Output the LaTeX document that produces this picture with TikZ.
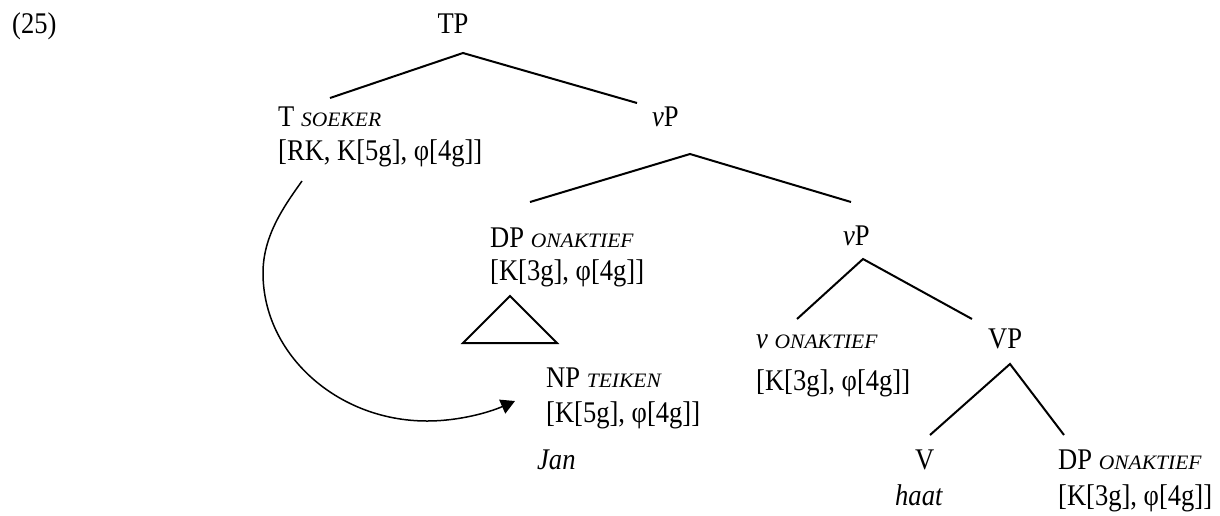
\documentclass[tikz,border=0pt]{standalone}
\usepackage{fontspec}
\setmainfont{Liberation Serif}[FakeStretch=0.885]
\newfontfamily\rolfont{Liberation Serif}[FakeStretch=1.05]
\usetikzlibrary{arrows.meta}
\newcommand\rol[1]{{\rolfont\fontsize{20.5}{20.5}\selectfont\itshape #1}}
\tikzset{lab/.style={anchor=base west,inner sep=0pt,font=\fontsize{30}{34}\selectfont},
  tak/.style={line width=2pt}}
\begin{document}
\begin{tikzpicture}[x=1pt,y=-1pt]
\useasboundingbox (0,0) rectangle (1220,515);
% labels
\node[lab] (nr) at (12,33) {(25)};
\node[lab,anchor=base] (TP) at (453,33) {TP};
\node[lab] (T) at (278,126) {T \rol{SOEKER}};
\node[lab] (Tf) at (278,160) {[RK, K[5g], φ[4g]]};
\node[lab] (vPa) at (652,126) {\textit{v}P};
\node[lab] (DPa) at (490,247) {DP \rol{ONAKTIEF}};
\node[lab] (DPaf) at (490,280) {[K[3g], φ[4g]]};
\node[lab] (NP) at (546,387) {NP \rol{TEIKEN}};
\node[lab] (NPf) at (546,422) {[K[5g], φ[4g]]};
\node[lab] (Jan) at (537,469) {\textit{Jan}};
\node[lab] (vPb) at (843,245) {\textit{v}P};
\node[lab] (v) at (756,348) {\textit{v} \rol{ONAKTIEF}};
\node[lab] (vf) at (756,390) {[K[3g], φ[4g]]};
\node[lab] (VP) at (988,348) {VP};
\node[lab] (V) at (915,469) {V};
\node[lab] (haat) at (895,505) {\textit{haat}};
\node[lab] (DPb) at (1058,469) {DP \rol{ONAKTIEF}};
\node[lab] (DPbf) at (1058,505) {[K[3g], φ[4g]]};
% branch points
\coordinate (TPt) at (463,53);
\coordinate (Tt) at (330,98);
\coordinate (vPat) at (637,103);
\coordinate (vPab) at (690,154);
\coordinate (DPat) at (530,202);
\coordinate (vPbt) at (851,202);
\coordinate (vPbb) at (863,259);
\coordinate (vt) at (797,319);
\coordinate (VPt) at (972,319);
\coordinate (VPb) at (1010,364);
\coordinate (Vt) at (930,435);
\coordinate (DPbt) at (1064,435);
\coordinate (dA) at (510,296);
\coordinate (dB) at (463,343);
\coordinate (dC) at (557,343);
\coordinate (mvA) at (302,181);
\coordinate (mvB) at (515,401);
% branches
\draw[tak] (Tt)--(TPt)--(vPat);
\draw[tak] (DPat)--(vPab)--(vPbt);
\draw[tak] (vt)--(vPbb)--(VPt);
\draw[tak] (Vt)--(VPb)--(DPbt);
\draw[tak] (dA)--(dB)--(dC)--cycle;
% movement arrow
\draw[line width=1.5pt,-{Triangle[length=14pt,width=15pt]}] (mvA)
  .. controls (285,205) and (263,235) .. (263,273)
  .. controls (263,354) and (337,421) .. (427,421)
  .. controls (460,421) and (490,412) .. (mvB);
\end{tikzpicture}
\end{document}
